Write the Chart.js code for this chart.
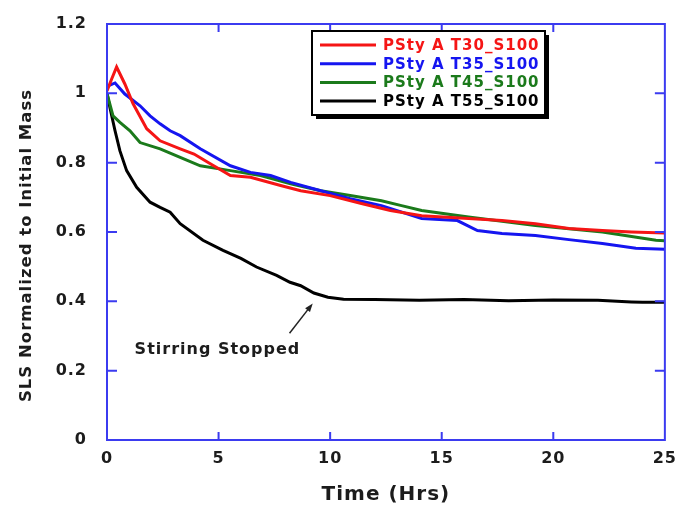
<!DOCTYPE html>
<html><head><meta charset="utf-8">
<script src="https://cdn.jsdelivr.net/npm/chart.js@4.4.1/dist/chart.umd.min.js"></script>
<style>html,body{margin:0;padding:0;background:#fff}</style>
</head><body>
<canvas id="c" width="677" height="508"></canvas>
<script>
// ---- data (hours, normalized mass) ----
const T30_T = [0, 0.2, 0.43, 0.8, 1.17, 1.78, 2.38, 3.28, 3.9, 4.63, 5.53, 6.43, 7.78, 8.68, 10.0, 11.4, 12.7, 14.1, 16.2, 17.7, 19.2, 20.7, 22.2, 23.5, 25];
const T30_V = [1.007, 1.04, 1.076, 1.027, 0.97, 0.898, 0.863, 0.84, 0.825, 0.797, 0.763, 0.758, 0.734, 0.719, 0.705, 0.682, 0.662, 0.647, 0.639, 0.633, 0.624, 0.61, 0.604, 0.60, 0.597];

const T35_T = [0, 0.36, 0.8, 1.48, 1.93, 2.38, 2.83, 3.28, 4.18, 5.53, 6.43, 7.33, 8.23, 9.58, 10.9, 12.3, 14.1, 15.7, 16.6, 17.7, 19.2, 20.7, 22.2, 23.7, 25];
const T35_V = [1.02, 1.03, 0.998, 0.964, 0.935, 0.912, 0.892, 0.878, 0.84, 0.791, 0.772, 0.763, 0.743, 0.719, 0.696, 0.676, 0.639, 0.633, 0.604, 0.596, 0.59, 0.578, 0.567, 0.553, 0.55];

const T45_T = [0, 0.27, 0.58, 1.03, 1.48, 2.38, 3.28, 4.18, 5.53, 6.88, 8.23, 9.58, 10.9, 12.3, 13.2, 14.1, 16.2, 19.2, 22.2, 24.6, 25];
const T45_V = [1.0, 0.935, 0.916, 0.892, 0.858, 0.84, 0.815, 0.791, 0.777, 0.763, 0.739, 0.719, 0.705, 0.69, 0.676, 0.662, 0.643, 0.619, 0.60, 0.576, 0.575];

const T55_T = [0, 0.13, 0.36, 0.58, 0.88, 1.33, 1.93, 2.38, 2.83, 3.28, 4.3, 5.2, 6.0, 6.7, 7.6, 8.2, 8.68, 9.27, 9.9, 10.6, 12, 14, 16, 18, 20, 22, 23.5, 24, 25];
const T55_V = [1.0, 0.959, 0.892, 0.834, 0.777, 0.729, 0.686, 0.671, 0.657, 0.624, 0.576, 0.547, 0.524, 0.499, 0.475, 0.455, 0.445, 0.424, 0.412, 0.406, 0.405, 0.403, 0.405, 0.402, 0.404, 0.403, 0.398, 0.397, 0.397];

const LABELS = ['PSty A T30_S100', 'PSty A T35_S100', 'PSty A T45_S100', 'PSty A T55_S100'];
const COLORS = ['#f51515', '#1515f0', '#1b7a1b', '#000000'];

const X_TICKS = [0, 5, 10, 15, 20, 25];
const Y_TICKS = [0, 0.2, 0.4, 0.6, 0.8, 1.0, 1.2];
const Y_TICK_LABELS = ['0', '0.2', '0.4', '0.6', '0.8', '1', '1.2'];

const NOTE = 'Stirring Stopped';
const NOTE_AT = [4.95, 0.259];      // text centre
const ARROW_FROM = [8.18, 0.308];
const ARROW_TO = [9.22, 0.394];

const AXIS = '#3b3bf0';
const INK = '#1c1c1c';
const FONT = 'DejaVu Sans';

const pts = (t, v) => t.map((x, i) => ({x, y: v[i]}));
const SERIES = [pts(T30_T, T30_V), pts(T35_T, T35_V), pts(T45_T, T45_V), pts(T55_T, T55_V)];

// frame, inward ticks, boxed legend, annotation
const decor = {
  id: 'decor',
  beforeDraw(c){ c.ctx.letterSpacing = '1px'; },
  afterDatasetsDraw(c){
    const {ctx, chartArea: a, scales: {x, y}} = c;
    ctx.save();
    ctx.strokeStyle = AXIS; ctx.lineWidth = 2;
    ctx.strokeRect(a.left, a.top, a.right - a.left, a.bottom - a.top);
    ctx.beginPath();
    X_TICKS.slice(1, -1).forEach(v => {
      const px = x.getPixelForValue(v);
      ctx.moveTo(px, a.bottom); ctx.lineTo(px, a.bottom - 8);
      ctx.moveTo(px, a.top); ctx.lineTo(px, a.top + 8);
    });
    Y_TICKS.slice(1, -1).forEach(v => {
      const py = y.getPixelForValue(v);
      ctx.moveTo(a.left, py); ctx.lineTo(a.left + 10, py);
      ctx.moveTo(a.right, py); ctx.lineTo(a.right - 10, py);
    });
    ctx.stroke();

    // legend box with drop shadow
    const bx = 312, by = 31, bw = 233, bh = 84;
    ctx.fillStyle = '#000';
    ctx.fillRect(bx + 4, by + 4, bw, bh);
    ctx.fillStyle = '#fff';
    ctx.fillRect(bx, by, bw, bh);
    ctx.strokeStyle = '#000'; ctx.lineWidth = 2;
    ctx.strokeRect(bx, by, bw, bh);
    ctx.font = 'bold 15px ' + FONT;
    ctx.textBaseline = 'middle'; ctx.textAlign = 'left';
    c.data.datasets.forEach((d, i) => {
      const ry = 45 + i * 18.7;
      ctx.strokeStyle = d.borderColor; ctx.lineWidth = 3;
      ctx.beginPath(); ctx.moveTo(320, ry); ctx.lineTo(376, ry); ctx.stroke();
      ctx.fillStyle = d.borderColor;
      ctx.fillText(d.label, 383, ry + 1);
    });

    // annotation
    ctx.fillStyle = INK;
    ctx.textAlign = 'center';
    ctx.font = 'bold 16px ' + FONT;
    ctx.fillText(NOTE, x.getPixelForValue(NOTE_AT[0]), y.getPixelForValue(NOTE_AT[1]));
    const x0 = x.getPixelForValue(ARROW_FROM[0]), y0 = y.getPixelForValue(ARROW_FROM[1]);
    const x1 = x.getPixelForValue(ARROW_TO[0]), y1 = y.getPixelForValue(ARROW_TO[1]);
    const ang = Math.atan2(y1 - y0, x1 - x0);
    ctx.strokeStyle = '#222'; ctx.lineWidth = 1.5;
    ctx.beginPath(); ctx.moveTo(x0, y0); ctx.lineTo(x1 - 6 * Math.cos(ang), y1 - 6 * Math.sin(ang)); ctx.stroke();
    ctx.fillStyle = '#222';
    ctx.beginPath();
    ctx.moveTo(x1, y1);
    ctx.lineTo(x1 - 9 * Math.cos(ang - 0.35), y1 - 9 * Math.sin(ang - 0.35));
    ctx.lineTo(x1 - 9 * Math.cos(ang + 0.35), y1 - 9 * Math.sin(ang + 0.35));
    ctx.closePath(); ctx.fill();
    ctx.restore();
  }
};

new Chart(document.getElementById('c'), {
  type: 'line',
  data: {
    datasets: SERIES.map((s, i) => ({
      label: LABELS[i], data: s, borderColor: COLORS[i], backgroundColor: COLORS[i],
      borderWidth: 3, pointRadius: 0, tension: 0, fill: false
    }))
  },
  options: {
    responsive: false, animation: false,
    layout: {padding: {left: 0, top: 24, right: 8, bottom: 0}},
    plugins: {legend: {display: false}, tooltip: {enabled: false}},
    scales: {
      x: {
        type: 'linear', min: 0, max: 25,
        afterBuildTicks: s => { s.ticks = X_TICKS.map(v => ({value: v})); },
        afterFit: s => { s.height = 68; },
        grid: {display: false}, border: {display: false},
        ticks: {color: INK, font: {family: FONT, size: 16, weight: 'bold'}, padding: 1, maxRotation: 0},
        title: {display: true, text: 'Time (Hrs)', color: INK,
                font: {family: FONT, size: 20, weight: 'bold'}, padding: {top: 0, bottom: 1}}
      },
      y: {
        type: 'linear', min: 0, max: 1.2,
        afterBuildTicks: s => { s.ticks = Y_TICKS.map(v => ({value: v})); },
        afterFit: s => { s.width = 107; },
        grid: {display: false}, border: {display: false},
        ticks: {color: INK, font: {family: FONT, size: 16, weight: 'bold'}, padding: 12,
                callback: (v, i) => Y_TICK_LABELS[i]},
        // trailing blanks nudge the rotated title toward the bottom, as in the figure
        title: {display: true, text: 'SLS Normalized to Initial Mass\u00a0\u00a0\u00a0\u00a0', color: INK,
                font: {family: FONT, size: 16.5, weight: 'bold'}, padding: {top: 17, bottom: 0}}
      }
    }
  },
  plugins: [decor]
});
</script>
</body></html>
